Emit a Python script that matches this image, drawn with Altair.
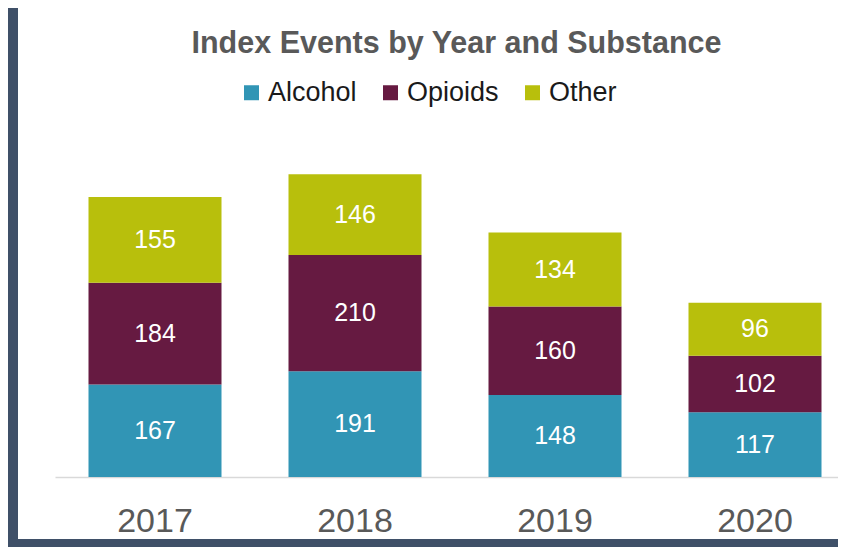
import altair as alt
import pandas as pd

years = ["2017", "2018", "2019", "2020"]
substances = ["Alcohol", "Opioids", "Other"]
alcohol = [167, 191, 148, 117]
opioids = [184, 210, 160, 102]
other = [155, 146, 134, 96]
colors = ["#3195B5", "#661A41", "#B8BF0C"]

rows = []
for i, yr in enumerate(years):
    for j, (s, vals) in enumerate(zip(substances, [alcohol, opioids, other])):
        rows.append({"year": yr, "substance": s, "value": vals[i], "order": j})
df = pd.DataFrame(rows)

FONT = "Liberation Sans"

x_enc = alt.X(
    "year:N",
    sort=years,
    scale=alt.Scale(range=[0, 800], paddingInner=0.335, paddingOuter=0.1675),
    axis=alt.Axis(
        title=None, labelAngle=0, ticks=False, domainColor="#D9D9D9", domainWidth=1.5,
        labelFontSize=34, labelColor="#595959", labelPadding=27, labelFont=FONT,
    ),
)
y_scale = alt.Scale(domain=[0, 600])

bars = alt.Chart(df).mark_bar().encode(
    x=x_enc,
    y=alt.Y("value:Q", stack="zero", scale=y_scale, axis=None),
    color=alt.Color(
        "substance:N",
        scale=alt.Scale(domain=substances, range=colors),
        legend=alt.Legend(
            title=None, orient="none", legendX=183, legendY=-66, direction="horizontal",
            symbolType="square", symbolSize=225, symbolStrokeWidth=0, symbolOpacity=1,
            labelFontSize=27, labelColor="#1A1A1A", labelFont=FONT,
            columnPadding=20, labelOffset=3,
        ),
    ),
    order=alt.Order("order:Q"),
)

labels = alt.Chart(df).transform_stack(
    stack="value", groupby=["year"], sort=[alt.SortField("order")], as_=["y0", "y1"]
).transform_calculate(
    mid="(datum.y0 + datum.y1) / 2"
).mark_text(
    color="white", fontSize=25, font=FONT, baseline="middle", align="center"
).encode(
    x=x_enc,
    y=alt.Y("mid:Q", scale=y_scale, axis=None),
    text=alt.Text("value:Q"),
)

frame = pd.DataFrame({"k": [0]})
left_strip = alt.Chart(frame).mark_rect(color="#3F5068").encode(
    x=alt.value(-47), x2=alt.value(-37), y=alt.value(-137), y2=alt.value(402)
)
bottom_strip = alt.Chart(frame).mark_rect(color="#3F5068").encode(
    x=alt.value(-47), x2=alt.value(783), y=alt.value(394), y2=alt.value(402)
)

chart = alt.layer(bars, labels, left_strip, bottom_strip).properties(
    width=783,
    height=332,
    padding={"left": 47, "top": 137, "right": 0, "bottom": 70},
    autosize=alt.AutoSizeParams(type="none"),
    title=alt.TitleParams(
        "Index Events by Year and Substance", fontSize=30.5, font=FONT, fontWeight="bold",
        color="#595959", anchor="middle", dx=10, dy=55,
    ),
).configure_view(stroke=None)

chart.save("out.html", embed_options={"renderer": "svg", "actions": False})
